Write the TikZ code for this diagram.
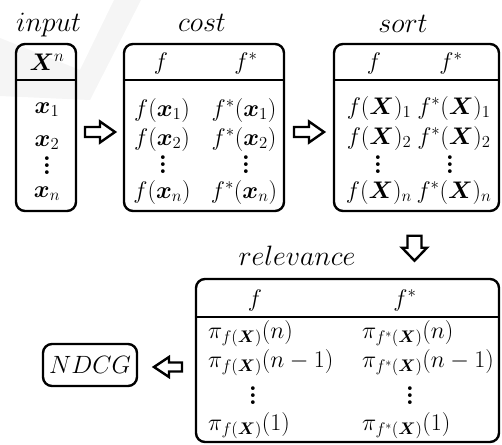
\documentclass[tikz,border=0pt]{standalone}
\usepackage{fix-cm}
\usepackage{amsmath,bm}
\usetikzlibrary{calc}
% three bold dots with a spacing that grows with the type size
\newcommand{\tallvdots}{\vbox{\baselineskip=7pt\lineskiplimit=0pt
  \hbox{$\bm{.}$}\hbox{$\bm{.}$}\hbox{$\bm{.}$}}}
\begin{document}
\begin{tikzpicture}[x=1pt,y=-1pt,
  box/.style={draw,line width=2.4pt,rounded corners=9pt,inner sep=0pt},
  rule/.style={line width=1.6pt},
  cell/.style={inner sep=0pt,anchor=base,font=\fontsize{24}{28}\selectfont},
  lcell/.style={cell,anchor=base west},
  dots/.style={inner sep=0pt,font=\fontsize{24}{28}\selectfont},
  title/.style={inner sep=0pt,anchor=base,font=\fontsize{28}{32}\selectfont},
  blk/.style={draw,line width=2.4pt,line join=miter,fill=white}]
\useasboundingbox (0,0) rectangle (502,444);

% faint check-mark watermark in the background
\fill[black!4] (0,38) -- (80,70) -- (114,0) -- (141,0) -- (90,100) -- (0,96) -- cycle;

% ---- boxes ----
\node[box,minimum width=60pt,minimum height=167pt] (input) at (46,127.5) {};
\node[box,minimum width=160pt,minimum height=167pt] (cost) at (204,127.5) {};
\node[box,minimum width=165pt,minimum height=167pt] (sort) at (416.5,127.5) {};
\node[box,minimum width=303pt,minimum height=163pt] (rel) at (347.5,360.5) {};
\node[box,minimum width=94pt,minimum height=42pt] (ndcg) at (90,365) {};

\draw[rule] (input.west |- 0,80) -- (input.east |- 0,80);
\draw[rule] (cost.west |- 0,80) -- (cost.east |- 0,80);
\draw[rule] (sort.west |- 0,80) -- (sort.east |- 0,80);
\draw[rule] (rel.west |- 0,317) -- (rel.east |- 0,317);

% ---- titles ----
\node[title,anchor=base west] (t-in) at (16,32) {$input$};
\node[title] (t-cost) at (202,32) {$cost$};
\node[title] (t-sort) at (403,33) {$sort$};
\node[title] (t-rel) at (297,265) {$relevance$};
\node[title,anchor=center,font=\fontsize{25}{30}\selectfont] (t-ndcg) at (ndcg) {$NDCG$};

% ---- input column ----
\node[cell] (in-h) at (47,70) {$\bm{X}^n$};
\node[cell] (in-1) at (47,113) {$\bm{x}_1$};
\node[cell] (in-2) at (47,146) {$\bm{x}_2$};
\node[dots] (in-d) at (47,166) {\tallvdots};
\node[cell] (in-n) at (47,197) {$\bm{x}_n$};

% ---- cost table ----
\node[cell] (c-h1) at (161,69) {$f$};
\node[cell] (c-h2) at (246,69) {$f^*$};
\node[cell] (c-11) at (162,116) {$f(\bm{x}_1)$};
\node[cell] (c-12) at (244,116) {$f^*(\bm{x}_1)$};
\node[cell] (c-21) at (162,145) {$f(\bm{x}_2)$};
\node[cell] (c-22) at (244,145) {$f^*(\bm{x}_2)$};
\node[dots] (c-d1) at (163,165) {\tallvdots};
\node[dots] (c-d2) at (246,165) {\tallvdots};
\node[cell] (c-n1) at (162,198) {$f(\bm{x}_n)$};
\node[cell] (c-n2) at (244,198) {$f^*(\bm{x}_n)$};

% ---- sort table ----
\node[cell] (s-h1) at (374,69) {$f$};
\node[cell] (s-h2) at (451,69) {$f^*$};
\node[cell] (s-11) at (379,114) {$f(\bm{X})_1$};
\node[cell] (s-12) at (454,114) {$f^*(\bm{X})_1$};
\node[cell] (s-21) at (379,144) {$f(\bm{X})_2$};
\node[cell] (s-22) at (454,144) {$f^*(\bm{X})_2$};
\node[dots] (s-d1) at (378,165) {\tallvdots};
\node[dots] (s-d2) at (450,165) {\tallvdots};
\node[cell] (s-n1) at (379,198) {$f(\bm{X})_n$};
\node[cell] (s-n2) at (454,198) {$f^*(\bm{X})_n$};

% ---- relevance table ----
\node[cell] (r-h1) at (255,306) {$f$};
\node[cell] (r-h2) at (405,306) {$f^*$};
\node[lcell] (r-11) at (208,338.5) {$\pi_{f(\bm{X})}(n)$};
\node[lcell] (r-12) at (362,338.5) {$\pi_{f^*(\bm{X})}(n)$};
\node[lcell] (r-21) at (208,367.5) {$\pi_{f(\bm{X})}(n-1)$};
\node[lcell] (r-22) at (362,367.5) {$\pi_{f^*(\bm{X})}(n-1)$};
\node[dots] (r-d1) at (253,396) {\tallvdots};
\node[dots] (r-d2) at (410,396) {\tallvdots};
\node[lcell] (r-31) at (208,430) {$\pi_{f(\bm{X})}(1)$};
\node[lcell] (r-32) at (362,430) {$\pi_{f^*(\bm{X})}(1)$};

% ---- hollow block arrows between the stages ----
\coordinate (a1) at ($(input.east)!.5!(cost.west)+(0,4.5)$);
\coordinate (a2) at ($(cost.east)!.5!(sort.west)+(0,4.5)$);
\coordinate (a3) at ($(sort.south)+(-2,36)$);
\coordinate (a4) at ($(ndcg.east)!.5!(rel.west |- ndcg.east)+(0,2)$);

\draw[blk] (a1) ++(-15,-5) -- ++(15,0) -- ++(0,-5.5) -- ++(15,10.5)
  -- ++(-15,10.5) -- ++(0,-5.5) -- ++(-15,0) -- cycle;
\draw[blk] (a2) ++(-15,-5) -- ++(15,0) -- ++(0,-5.5) -- ++(15,10.5)
  -- ++(-15,10.5) -- ++(0,-5.5) -- ++(-15,0) -- cycle;
\draw[blk] (a3) ++(-7,-12.5) -- ++(0,12) -- ++(-5.5,0) -- ++(12.5,13)
  -- ++(12.5,-13) -- ++(-5.5,0) -- ++(0,-12) -- cycle;
\draw[blk] (a4) ++(15.5,-4.5) -- ++(-13,0) -- ++(0,-5.5) -- ++(-15,10)
  -- ++(15,10) -- ++(0,-5.5) -- ++(13,0) -- cycle;
\end{tikzpicture}
\end{document}
